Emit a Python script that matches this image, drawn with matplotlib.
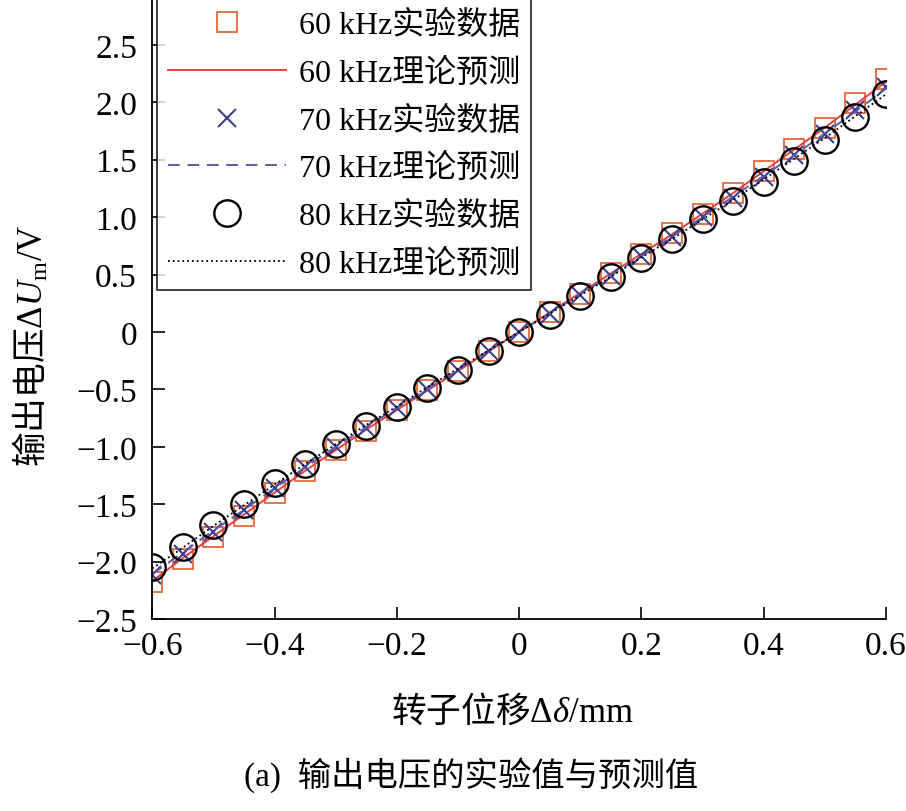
import matplotlib
matplotlib.use("Agg")
import matplotlib.pyplot as plt

plt.rcParams['font.family'] = ['Liberation Serif', 'Noto Sans CJK SC', 'DejaVu Sans']
# mixed CJK / math labels: CJK via \mathrm, latin via \mathsf / \mathit
plt.rcParams['mathtext.fontset'] = 'custom'
plt.rcParams['mathtext.rm'] = 'Noto Sans CJK SC'
plt.rcParams['mathtext.sf'] = 'Liberation Serif'
plt.rcParams['mathtext.it'] = 'Liberation Serif:italic'
plt.rcParams['axes.unicode_minus'] = True

# displacement (mm)
disp = [-0.60, -0.55, -0.50, -0.45, -0.40, -0.35, -0.30, -0.25, -0.20, -0.15, -0.10, -0.05,
        0.00, 0.05, 0.10, 0.15, 0.20, 0.25, 0.30, 0.35, 0.40, 0.45, 0.50, 0.55, 0.60]

# measured output voltage (V)
exp_60 = [-2.18, -1.98, -1.79, -1.60, -1.40, -1.21, -1.03, -0.86, -0.68, -0.51, -0.34, -0.17,
          0.00, 0.17, 0.33, 0.51, 0.68, 0.86, 1.03, 1.21, 1.40, 1.59, 1.78, 1.99, 2.20]
exp_70 = [-2.12, -1.93, -1.74, -1.55, -1.36, -1.18, -1.00, -0.84, -0.66, -0.50, -0.33, -0.17,
          0.00, 0.16, 0.32, 0.49, 0.66, 0.83, 1.00, 1.17, 1.35, 1.54, 1.72, 1.93, 2.13]
exp_80 = [-2.05, -1.87, -1.68, -1.50, -1.32, -1.15, -0.98, -0.82, -0.65, -0.49, -0.33, -0.17,
          0.00, 0.15, 0.31, 0.48, 0.64, 0.81, 0.98, 1.14, 1.31, 1.49, 1.67, 1.87, 2.07]

# predicted output voltage (V)
pred_60 = [-2.17, -1.97, -1.78, -1.59, -1.40, -1.21, -1.03, -0.85, -0.68, -0.51, -0.34, -0.17,
           0.00, 0.17, 0.34, 0.51, 0.68, 0.85, 1.03, 1.21, 1.40, 1.59, 1.78, 1.98, 2.18]
pred_70 = [-2.11, -1.92, -1.73, -1.55, -1.36, -1.18, -1.00, -0.83, -0.66, -0.50, -0.33, -0.16,
           0.00, 0.16, 0.33, 0.49, 0.66, 0.83, 1.00, 1.18, 1.36, 1.54, 1.73, 1.92, 2.12]
pred_80 = [-2.06, -1.88, -1.69, -1.51, -1.33, -1.15, -0.98, -0.81, -0.65, -0.48, -0.32, -0.16,
           0.00, 0.16, 0.32, 0.48, 0.65, 0.81, 0.98, 1.15, 1.33, 1.51, 1.69, 1.88, 2.07]

xticks = [-0.6, -0.4, -0.2, 0, 0.2, 0.4, 0.6]
xticklabels = ['\u22120.6', '\u22120.4', '\u22120.2', '0', '0.2', '0.4', '0.6']
yticks = [-2.5, -2.0, -1.5, -1.0, -0.5, 0, 0.5, 1.0, 1.5, 2.0, 2.5]
yticklabels = ['\u22122.5', '\u22122.0', '\u22121.5', '\u22121.0', '\u22120.5', '0',
               '0.5', '1.0', '1.5', '2.0', '2.5']

fig = plt.figure(figsize=(9.06, 8.12), dpi=100)
ax = fig.add_axes([0.168, 0.2365, 0.81, 0.7635])

ax.plot(disp, exp_60, 's', ms=14, mfc='none', mec='#e06a3c', mew=1.3, label='60 kHz实验数据')
ax.plot(disp, pred_60, '-', color='#e8403a', lw=1.4, label='60 kHz理论预测')
ax.plot(disp, exp_70, 'x', ms=13, color='#3f3f8f', mew=1.5, label='70 kHz实验数据')
ax.plot(disp, pred_70, '--', color='#5a5aae', lw=1.4, dashes=(6, 4), label='70 kHz理论预测')
ax.plot(disp, exp_80, 'o', ms=19, mfc='none', mec='black', mew=1.7, label='80 kHz实验数据')
ax.plot(disp, pred_80, ':', color='black', lw=1.3, label='80 kHz理论预测')

ax.set_xlim(-0.6, 0.6)
ax.set_ylim(-2.5, 2.9)
ax.set_xticks(xticks)
ax.set_xticklabels(xticklabels)
ax.set_yticks(yticks)
ax.set_yticklabels(yticklabels)
ax.tick_params(direction='in', length=9, width=1.2, labelsize=24)
ax.tick_params(axis='y', pad=11)
ax.tick_params(axis='x', pad=8)
for s in ['top', 'right']:
    ax.spines[s].set_visible(False)
for s in ['left', 'bottom']:
    ax.spines[s].set_linewidth(1.3)

fig.text(0.565, 1 - 712 / 812, r'$\mathrm{转子位移}\mathsf{\Delta}\mathit{\delta}\mathsf{/mm}$',
         ha='center', va='center', fontsize=25)
fig.text(0.035, 1 - 346 / 812, r'$\mathrm{输出电压}\mathsf{\Delta}\mathit{U}_\mathsf{m}\mathsf{/V}$',
         ha='center', va='center', rotation=90, fontsize=25)

leg = ax.legend(loc='upper left', bbox_to_anchor=(0.006, 1.0), fontsize=23, frameon=True,
                fancybox=False, edgecolor='black', handlelength=3.7, labelspacing=0.55,
                borderpad=0.35, handletextpad=0.4, borderaxespad=0)
leg.get_frame().set_linewidth(1.3)

fig.text(0.52, 0.046, '(a)  输出电压的实验值与预测值', ha='center', va='center', fontsize=24)

fig.savefig('out.png', dpi=100)
